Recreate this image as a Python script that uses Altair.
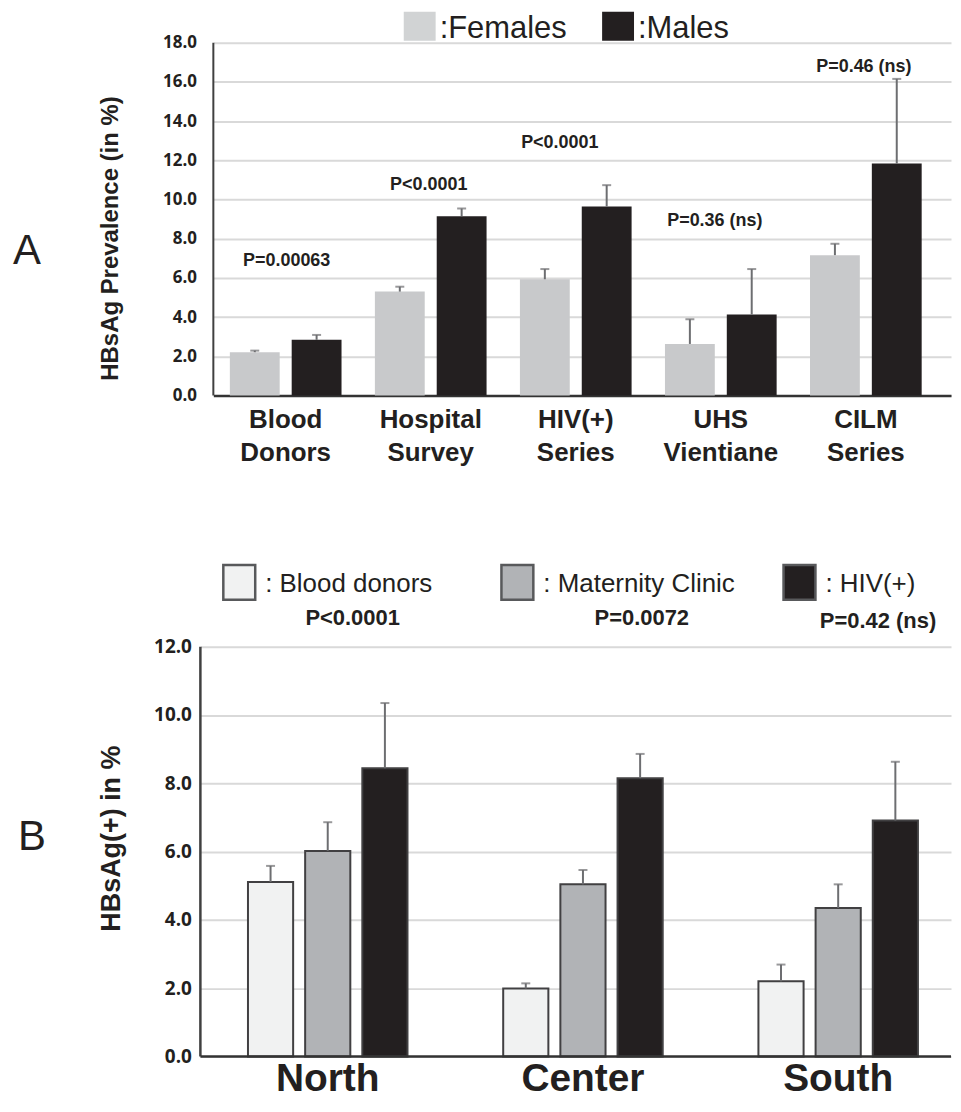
import altair as alt
import pandas as pd

# ---------------- Panel A data ----------------
a_categories = ["Blood Donors", "Hospital Survey", "HIV(+) Series", "UHS Vientiane", "CILM Series"]
a_groups = ["Females", "Males"]
a_females = [2.21, 5.30, 5.93, 2.63, 7.16]
a_males = [2.84, 9.15, 9.64, 4.13, 11.83]
a_females_upper = [2.29, 5.55, 6.45, 3.89, 7.74]
a_males_upper = [3.09, 9.54, 10.73, 6.45, 16.15]
a_pvalues = ["P=0.00063", "P<0.0001", "P<0.0001", "P=0.36 (ns)", "P=0.46 (ns)"]
a_pvalue_y = [6.61, 10.47, 12.6, 8.64, 16.52]

# ---------------- Panel B data ----------------
b_regions = ["North", "Center", "South"]
b_groups = ["Blood donors", "Maternity Clinic", "HIV(+)"]
b_blood = [5.11, 1.99, 2.20]
b_blood_upper = [5.58, 2.14, 2.69]
b_maternity = [6.02, 5.04, 4.35]
b_maternity_upper = [6.86, 5.46, 5.04]
b_hiv = [8.44, 8.15, 6.91]
b_hiv_upper = [10.35, 8.86, 8.63]
b_pvalues = ["P<0.0001", "P=0.0072", "P=0.42 (ns)"]
b_pvalue_y = [12.64, 12.64, 12.55]

# ---------------- tables ----------------
rows = []
for i, c in enumerate(a_categories):
    rows.append({"cat": c, "sex": "Females", "value": a_females[i], "upper": a_females_upper[i]})
    rows.append({"cat": c, "sex": "Males", "value": a_males[i], "upper": a_males_upper[i]})
dfA = pd.DataFrame(rows)
dfPA = pd.DataFrame({"cat": a_categories, "label": a_pvalues, "y": a_pvalue_y})

rows = []
for i, r in enumerate(b_regions):
    rows.append({"reg": r, "src": b_groups[0], "value": b_blood[i], "upper": b_blood_upper[i]})
    rows.append({"reg": r, "src": b_groups[1], "value": b_maternity[i], "upper": b_maternity_upper[i]})
    rows.append({"reg": r, "src": b_groups[2], "value": b_hiv[i], "upper": b_hiv_upper[i]})
dfB = pd.DataFrame(rows)
dfPB = pd.DataFrame({"reg": b_regions, "label": b_pvalues, "y": b_pvalue_y})
dfRB = pd.DataFrame({"reg": b_regions})
one = pd.DataFrame({"k": [0]})

INK = "#231f20"
ERR = "#6d6e71"
GRID = "#d9d9d9"
SANS = "Liberation Sans"

# ---------------- Panel A ----------------
# plot area runs from the top of the page (legend inside it) down to the zero line
WA, HA = 740, 387
yA_scale = alt.Scale(domain=[0, 19.678], nice=False)
xA = alt.X("cat:N", sort=a_categories,
           scale=alt.Scale(paddingInner=0.23, paddingOuter=0.158, align=0.36),
           axis=alt.Axis(title=None, labelAngle=0, labelExpr="split(datum.label, ' ')",
                         labelFont=SANS, labelFontSize=26, labelFontWeight="bold",
                         labelLineHeight=33, labelPadding=11, labelColor=INK,
                         ticks=False, domainColor="#333333", domainWidth=2.5))
yA_axis = alt.Axis(values=[0, 2, 4, 6, 8, 10, 12, 14, 16, 18], tickCount=20, format=".1f",
                   grid=True, gridColor=GRID, gridWidth=2, labelOverlap=False,
                   domain=False, ticks=False,
                   labelFont="Open Sans", labelFontWeight="bold", labelFontSize=17,
                   labelColor=INK, labelPadding=17,
                   title="HBsAg Prevalence (in %)", titleFont=SANS, titleFontSize=24,
                   titleFontWeight="bold", titleColor=INK, titleAngle=270,
                   titleBaseline="alphabetic", titleAlign="center", titleX=-96, titleY=229)
offA = alt.XOffset("sex:N", sort=a_groups, scale=alt.Scale(paddingInner=0.194, paddingOuter=0))

barsA = alt.Chart(dfA).mark_bar().encode(
    x=xA, xOffset=offA,
    y=alt.Y("value:Q", scale=yA_scale, axis=yA_axis),
    color=alt.Color("sex:N", scale=alt.Scale(domain=a_groups, range=["#c8c9cb", INK]), legend=None),
)
axisLineA = alt.Chart(one).mark_rule(color="#404040", strokeWidth=2).encode(
    x=alt.value(0), y=alt.datum(0), y2=alt.datum(18))
errA = alt.Chart(dfA).mark_rule(color=ERR, strokeWidth=2).encode(
    x=xA, xOffset=offA, y=alt.Y("value:Q", scale=yA_scale), y2="upper:Q")
capA = alt.Chart(dfA).mark_tick(color=ERR, size=9, thickness=2, orient="horizontal").encode(
    x=xA, xOffset=offA, y=alt.Y("upper:Q", scale=yA_scale))

a_dx = [1, -2, -16, -6, -2]
ptA = []
for i in range(len(a_categories)):
    ptA.append(alt.Chart(dfPA.iloc[[i]]).mark_text(
        font=SANS, fontSize=18, fontWeight="bold", color=INK, baseline="alphabetic",
        align="center", dx=a_dx[i]).encode(
        x=xA, y=alt.Y("y:Q", scale=yA_scale), text="label:N"))

legA = [
    alt.Chart(one).mark_rect(color="#d1d3d4").encode(
        x=alt.value(191), x2=alt.value(223), y=alt.value(2), y2=alt.value(31)),
    alt.Chart(one).mark_text(text=":" + a_groups[0], font=SANS, fontSize=31, color=INK,
                             align="left", baseline="alphabetic", clip=True).encode(
        x=alt.value(227), y=alt.value(28)),
    alt.Chart(one).mark_rect(color=INK).encode(
        x=alt.value(390), x2=alt.value(422), y=alt.value(2), y2=alt.value(31)),
    alt.Chart(one).mark_text(text=":" + a_groups[1], font=SANS, fontSize=31, color=INK,
                             align="left", baseline="alphabetic", clip=True).encode(
        x=alt.value(426), y=alt.value(28)),
]
letterA = alt.Chart(one).mark_text(text="A", font=SANS, fontSize=42, color=INK,
                                   align="left", baseline="alphabetic").encode(
    x=alt.value(-201), y=alt.value(255))
pinsA = [
    alt.Chart(one).mark_rule(color="white", strokeWidth=0.5).encode(
        x=alt.value(-205), x2=alt.value(-204), y=alt.value(100)),
]
panelA = alt.layer(barsA, axisLineA, errA, capA, *ptA, *legA, letterA, *pinsA).properties(
    width=WA, height=HA)

# ---------------- Panel B ----------------
# plot group shares panel A's left edge; the axis is drawn 13 px further left,
# and the plot area extends below zero to hold the region labels
SH = 13
WB, HB = 740, 457
yB_scale = alt.Scale(domain=[-1.343, 12], nice=False)
xB = alt.X("reg:N", sort=b_regions,
           scale=alt.Scale(range=[-SH, 740], paddingInner=0.375, paddingOuter=0.158, align=0.59),
           axis=None)
yB_axis = alt.Axis(values=[0, 2, 4, 6, 8, 10, 12], tickCount=20, format=".1f", offset=SH,
                   grid=True, gridColor=GRID, gridWidth=2, labelOverlap=False,
                   domain=False, ticks=False,
                   labelFont="Open Sans", labelFontWeight="bold", labelFontSize=19,
                   labelColor=INK, labelPadding=9,
                   title="HBsAg(+) in %", titleFont=SANS, titleFontSize=27,
                   titleFontWeight="bold", titleColor=INK, titleAngle=270,
                   titleBaseline="alphabetic", titleAlign="center", titleX=-81, titleY=192)
offB = alt.XOffset("src:N", sort=b_groups, scale=alt.Scale(paddingInner=0.21, paddingOuter=0))
b_fill = ["#f1f2f2", "#b1b3b6", INK]

barsB = alt.Chart(dfB).mark_bar(stroke="#414042", strokeWidth=2).encode(
    x=xB, xOffset=offB,
    y=alt.Y("value:Q", scale=yB_scale, axis=yB_axis),
    color=alt.Color("src:N", scale=alt.Scale(domain=b_groups, range=b_fill), legend=None),
)
axisLeftB = alt.Chart(one).mark_rule(color="#404040", strokeWidth=2.5).encode(
    x=alt.value(-SH), y=alt.datum(0), y2=alt.datum(12))
axisBottomB = alt.Chart(one).mark_rule(color="#333333", strokeWidth=2.5).encode(
    x=alt.value(-SH), x2=alt.value(740), y=alt.datum(0))
errB = alt.Chart(dfB).mark_rule(color=ERR, strokeWidth=2).encode(
    x=xB, xOffset=offB, y=alt.Y("value:Q", scale=yB_scale), y2="upper:Q")
capB = alt.Chart(dfB).mark_tick(color=ERR, size=9, thickness=2, orient="horizontal").encode(
    x=xB, xOffset=offB, y=alt.Y("upper:Q", scale=yB_scale))
regionLabels = alt.Chart(dfRB).mark_text(
    font=SANS, fontSize=39, fontWeight="bold", color=INK, baseline="alphabetic",
    align="center", clip=True).encode(
    x=xB, y=alt.value(446), text="reg:N")

b_dx = [25, 59, 40]
ptB = []
for i in range(len(b_regions)):
    ptB.append(alt.Chart(dfPB.iloc[[i]]).mark_text(
        font=SANS, fontSize=22, fontWeight="bold", color=INK, baseline="alphabetic",
        align="center", dx=b_dx[i]).encode(
        x=xB, y=alt.Y("y:Q", scale=yB_scale), text="label:N"))

legB = []
sw_x = [23 - SH, 302 - SH, 585 - SH]
for i, g in enumerate(b_groups):
    legB.append(alt.Chart(one).mark_rect(color=b_fill[i], stroke="#58595b", strokeWidth=2.5).encode(
        x=alt.value(sw_x[i]), x2=alt.value(sw_x[i] + 32), y=alt.value(-82), y2=alt.value(-47)))
    legB.append(alt.Chart(one).mark_text(text=": " + g, font=SANS, fontSize=26, color=INK,
                                         align="left", baseline="alphabetic").encode(
        x=alt.value(sw_x[i] + 42), y=alt.value(-55)))
letterB = alt.Chart(one).mark_text(text="B", font=SANS, fontSize=42, color=INK,
                                   align="left", baseline="alphabetic").encode(
    x=alt.value(-183 - SH), y=alt.value(204))
panelB = alt.layer(barsB, axisLeftB, axisBottomB, errB, capB, regionLabels, *ptB, *legB,
                   letterB).properties(width=WB, height=HB)

chart = alt.vconcat(panelA, panelB, spacing=252, bounds="flush").resolve_scale(
    color="independent", xOffset="independent", x="independent", y="independent"
).properties(
    padding=0, background="white"
).configure_view(stroke=None)

chart.save("out.html", embed_options={"renderer": "svg", "actions": False})
